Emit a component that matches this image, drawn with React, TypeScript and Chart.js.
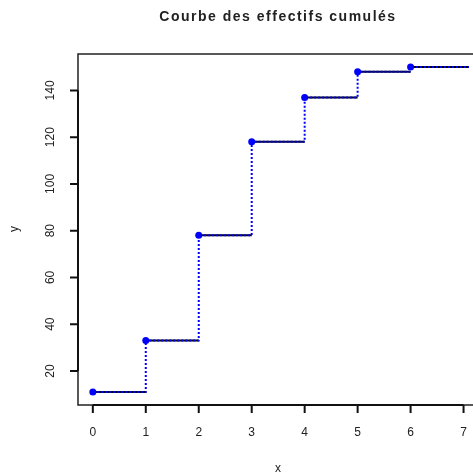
import React, { useEffect, useRef } from "react";
import { Chart, registerables } from "chart.js";

Chart.register(...registerables);

const xSteps = [0, 1, 2, 3, 4, 5, 6];
const cumCounts = [11, 33, 78, 118, 137, 148, 150];
const xEnd = 7.5;
const xTicks = [0, 1, 2, 3, 4, 5, 6, 7];
const yTicks = [20, 40, 60, 80, 100, 120, 140];
const titleText = "Courbe des effectifs cumulés";
const xLabel = "x";
const yLabel = "y";

const FONT = "'Liberation Sans', Arial, Helvetica, sans-serif";

export default function App() {
  const ref = useRef<HTMLCanvasElement | null>(null);

  useEffect(() => {
    const canvas = ref.current;
    if (!canvas) return;

    const horiz: any[] = [];
    xSteps.forEach((x, i) => {
      const nx = i < xSteps.length - 1 ? xSteps[i + 1] : xEnd;
      horiz.push({ x, y: cumCounts[i] });
      horiz.push({ x: nx, y: cumCounts[i] });
      horiz.push({ x: nx, y: null });
    });
    const stepPts = xSteps.map((x, i) => ({ x, y: cumCounts[i] }));
    stepPts.push({ x: xEnd, y: cumCounts[cumCounts.length - 1] });
    const pts = xSteps.map((x, i) => ({ x, y: cumCounts[i] }));

    const rAxes = {
      id: "rAxes",
      afterDraw(chart: any) {
        const ctx = chart.ctx;
        const xs = chart.scales.x;
        const ys = chart.scales.y;
        const a = chart.chartArea;
        ctx.save();
        // box
        ctx.strokeStyle = "#222";
        ctx.lineWidth = 1.5;
        ctx.strokeRect(a.left, a.top, a.right + 20 - a.left, a.bottom - a.top);
        // y axis
        ctx.strokeStyle = "#111";
        ctx.lineWidth = 2;
        ctx.beginPath();
        ctx.moveTo(a.left, ys.getPixelForValue(yTicks[0]));
        ctx.lineTo(a.left, ys.getPixelForValue(yTicks[yTicks.length - 1]));
        yTicks.forEach((t) => {
          const p = ys.getPixelForValue(t);
          ctx.moveTo(a.left, p);
          ctx.lineTo(a.left - 8, p);
        });
        ctx.stroke();
        // x axis
        ctx.beginPath();
        ctx.moveTo(xs.getPixelForValue(xTicks[0]), a.bottom);
        ctx.lineTo(xs.getPixelForValue(xTicks[xTicks.length - 1]), a.bottom);
        xTicks.forEach((t) => {
          const p = xs.getPixelForValue(t);
          ctx.moveTo(p, a.bottom);
          ctx.lineTo(p, a.bottom + 8);
        });
        ctx.stroke();
        // labels
        ctx.fillStyle = "#222";
        ctx.font = `12px ${FONT}`;
        ctx.textAlign = "center";
        ctx.textBaseline = "middle";
        xTicks.forEach((t) => {
          ctx.fillText(String(t), xs.getPixelForValue(t), 433);
        });
        yTicks.forEach((t) => {
          ctx.save();
          ctx.translate(51, ys.getPixelForValue(t));
          ctx.rotate(-Math.PI / 2);
          ctx.fillText(String(t), 0, 0);
          ctx.restore();
        });
        ctx.fillText(xLabel, 278, 469);
        ctx.save();
        ctx.translate(15, 229);
        ctx.rotate(-Math.PI / 2);
        ctx.fillText(yLabel, 0, 0);
        ctx.restore();
        ctx.font = `bold 14px ${FONT}`;
        try {
          (ctx as any).letterSpacing = "1.5px";
        } catch (e) {}
        ctx.fillText(titleText, 278, 17);
        try {
          (ctx as any).letterSpacing = "0px";
        } catch (e) {}
        ctx.restore();
      },
    };

    const chart = new Chart(canvas, {
      type: "line",
      data: {
        datasets: [
          {
            data: horiz,
            borderColor: "#000",
            borderWidth: 2,
            pointRadius: 0,
            spanGaps: false,
            order: 3,
          },
          {
            data: stepPts,
            borderColor: "#0000ff",
            borderWidth: 2,
            borderDash: [2, 2],
            stepped: true,
            pointRadius: 0,
            order: 2,
          },
          {
            data: pts,
            showLine: false,
            pointRadius: 3.5,
            pointBackgroundColor: "#0000ff",
            pointBorderColor: "#0000ff",
            pointBorderWidth: 0,
            order: 1,
          },
        ],
      } as any,
      options: {
        animation: false,
        responsive: false,
        devicePixelRatio: 1,
        layout: { padding: { left: 78, top: 54, right: 0, bottom: 70 } },
        plugins: { legend: { display: false }, tooltip: { enabled: false }, title: { display: false } },
        scales: {
          x: { type: "linear", min: -0.28, max: 7.103, display: false },
          y: { type: "linear", min: 5.44, max: 155.56, display: false },
        },
      },
      plugins: [rAxes],
    });
    return () => chart.destroy();
  }, []);

  return (
    <div style={{ position: "absolute", left: 0, top: 0, width: 473, height: 475, background: "#fff" }}>
      <canvas ref={ref} width={473} height={475} style={{ display: "block" }} />
    </div>
  );
}
